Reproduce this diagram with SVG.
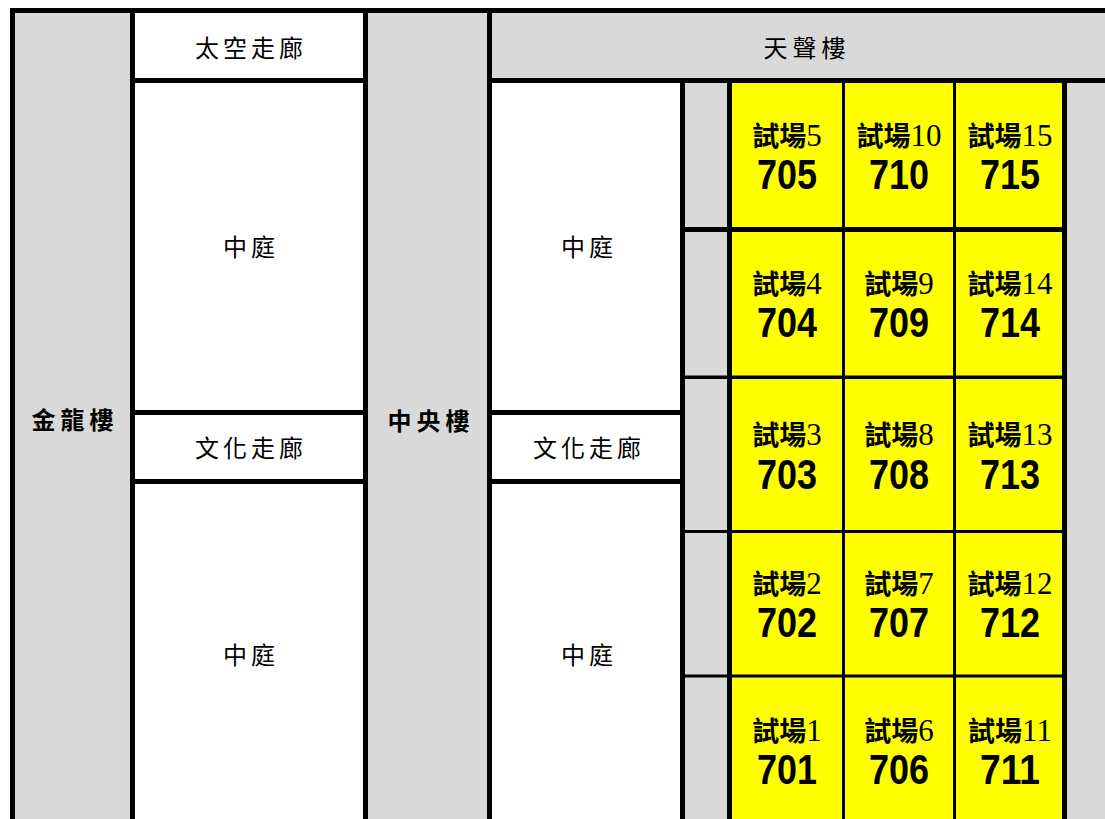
<svg xmlns="http://www.w3.org/2000/svg" width="1105" height="819" viewBox="0 0 1105 819">
<style>
.g{fill:#d9d9d9}
.w{fill:#ffffff}
.y{fill:#ffff00}
.k{fill:#000000}
.t{font-family:"Noto Sans CJK TC","Noto Sans CJK SC",sans-serif;font-size:24px;fill:#000;text-anchor:middle;letter-spacing:4px}
.b{font-weight:bold;letter-spacing:5px}
.lab{font-family:"Noto Sans CJK TC","Noto Sans CJK SC",sans-serif;font-size:27px;font-weight:bold;fill:#000;text-anchor:middle}
.dg{font-family:"Liberation Serif",serif;font-weight:normal;font-size:31px}
.num{font-family:"Liberation Sans",Arial,sans-serif;font-size:42px;font-weight:bold;fill:#000;text-anchor:middle}
</style>
<rect x="0" y="0" width="1105" height="819" class="w"/>
<g id="jinlong"><rect x="15" y="13" width="115" height="806" class="g"/><text class="t b" x="75" y="429">金龍樓</text></g>
<g id="space-corridor"><rect x="135" y="13" width="228" height="65" class="w"/><text class="t" x="251" y="57">太空走廊</text></g>
<g id="courtyard-1"><rect x="135" y="83" width="228" height="327" class="w"/><text class="t" x="251" y="256">中庭</text></g>
<g id="culture-corridor-1"><rect x="135" y="415" width="228" height="64" class="w"/><text class="t" x="251" y="457">文化走廊</text></g>
<g id="courtyard-2"><rect x="135" y="484" width="228" height="335" class="w"/><text class="t" x="251" y="664">中庭</text></g>
<g id="zhongyang"><rect x="368" y="13" width="119" height="806" class="g"/><text class="t b" x="431" y="430">中央樓</text></g>
<g id="tiansheng"><rect x="492" y="13" width="613" height="65" class="g"/><text class="t b" x="807" y="57" style="font-weight:normal">天聲樓</text></g>
<g id="courtyard-3"><rect x="492" y="83" width="188" height="327" class="w"/><text class="t" x="589" y="256">中庭</text></g>
<g id="culture-corridor-2"><rect x="492" y="415" width="188" height="64" class="w"/><text class="t" x="589" y="457">文化走廊</text></g>
<g id="courtyard-4"><rect x="492" y="484" width="188" height="335" class="w"/><text class="t" x="589" y="664">中庭</text></g>
<g id="side-aisle"><rect x="685" y="83" width="42" height="736" class="g"/></g>
<g id="right-aisle"><rect x="1067" y="83" width="38" height="736" class="g"/></g>
<g id="rooms">
<rect x="732" y="83" width="330" height="736" class="y"/>
</g>
<g id="room-705"><text class="lab" x="787" y="146">試場<tspan class="dg">5</tspan></text><text class="num" x="787" y="189" textLength="60" lengthAdjust="spacingAndGlyphs">705</text></g>
<g id="room-710"><text class="lab" x="899" y="146">試場<tspan class="dg">10</tspan></text><text class="num" x="899" y="189" textLength="60" lengthAdjust="spacingAndGlyphs">710</text></g>
<g id="room-715"><text class="lab" x="1010" y="146">試場<tspan class="dg">15</tspan></text><text class="num" x="1010" y="189" textLength="60" lengthAdjust="spacingAndGlyphs">715</text></g>
<g id="room-704"><text class="lab" x="787" y="294">試場<tspan class="dg">4</tspan></text><text class="num" x="787" y="337" textLength="60" lengthAdjust="spacingAndGlyphs">704</text></g>
<g id="room-709"><text class="lab" x="899" y="294">試場<tspan class="dg">9</tspan></text><text class="num" x="899" y="337" textLength="60" lengthAdjust="spacingAndGlyphs">709</text></g>
<g id="room-714"><text class="lab" x="1010" y="294">試場<tspan class="dg">14</tspan></text><text class="num" x="1010" y="337" textLength="60" lengthAdjust="spacingAndGlyphs">714</text></g>
<g id="room-703"><text class="lab" x="787" y="445">試場<tspan class="dg">3</tspan></text><text class="num" x="787" y="489" textLength="60" lengthAdjust="spacingAndGlyphs">703</text></g>
<g id="room-708"><text class="lab" x="899" y="445">試場<tspan class="dg">8</tspan></text><text class="num" x="899" y="489" textLength="60" lengthAdjust="spacingAndGlyphs">708</text></g>
<g id="room-713"><text class="lab" x="1010" y="445">試場<tspan class="dg">13</tspan></text><text class="num" x="1010" y="489" textLength="60" lengthAdjust="spacingAndGlyphs">713</text></g>
<g id="room-702"><text class="lab" x="787" y="594">試場<tspan class="dg">2</tspan></text><text class="num" x="787" y="637" textLength="60" lengthAdjust="spacingAndGlyphs">702</text></g>
<g id="room-707"><text class="lab" x="899" y="594">試場<tspan class="dg">7</tspan></text><text class="num" x="899" y="637" textLength="60" lengthAdjust="spacingAndGlyphs">707</text></g>
<g id="room-712"><text class="lab" x="1010" y="594">試場<tspan class="dg">12</tspan></text><text class="num" x="1010" y="637" textLength="60" lengthAdjust="spacingAndGlyphs">712</text></g>
<g id="room-701"><text class="lab" x="787" y="741">試場<tspan class="dg">1</tspan></text><text class="num" x="787" y="784" textLength="60" lengthAdjust="spacingAndGlyphs">701</text></g>
<g id="room-706"><text class="lab" x="899" y="741">試場<tspan class="dg">6</tspan></text><text class="num" x="899" y="784" textLength="60" lengthAdjust="spacingAndGlyphs">706</text></g>
<g id="room-711"><text class="lab" x="1010" y="741">試場<tspan class="dg">11</tspan></text><text class="num" x="1010" y="784" textLength="60" lengthAdjust="spacingAndGlyphs">711</text></g>
<g id="grid-lines" class="k">
<rect x="10" y="8" width="1095" height="5"/>
<rect x="10" y="8" width="5" height="811"/>
<rect x="130" y="8" width="5" height="811"/>
<rect x="363" y="8" width="5" height="811"/>
<rect x="487" y="8" width="5" height="811"/>
<rect x="130" y="78" width="238" height="5"/>
<rect x="130" y="410" width="238" height="5"/>
<rect x="130" y="479" width="238" height="5"/>
<rect x="487" y="78" width="618" height="5"/>
<rect x="487" y="410" width="198" height="5"/>
<rect x="487" y="479" width="198" height="5"/>
<rect x="680" y="78" width="5" height="741"/>
<rect x="727" y="78" width="5" height="741"/>
<rect x="842" y="78" width="3" height="741"/>
<rect x="953" y="78" width="3" height="741"/>
<rect x="1062" y="78" width="5" height="741"/>
<rect x="680" y="227" width="387" height="5"/>
<rect x="680" y="375.5" width="387" height="3.5"/>
<rect x="680" y="530" width="387" height="3"/>
<rect x="680" y="674.5" width="387" height="3"/>
</g>
</svg>
